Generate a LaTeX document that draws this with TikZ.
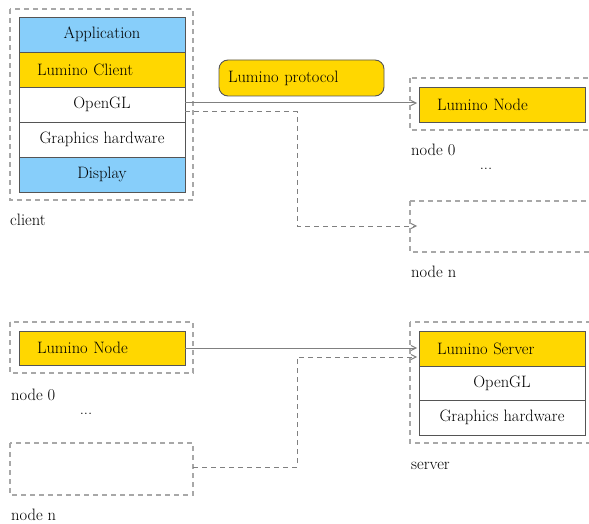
\documentclass[tikz,border=0pt]{standalone}
\usetikzlibrary{arrows.meta}
\definecolor{skyb}{HTML}{87CEFA}
\definecolor{goldy}{HTML}{FFD700}
\definecolor{edgeg}{HTML}{555555}
\definecolor{dashg}{HTML}{A8A8A8}
\definecolor{arrg}{HTML}{808080}
\tikzset{
  txt/.style={font=\fontsize{16.5}{19}\selectfont},
  dbox/.style={draw=dashg, line width=1.2pt, dash pattern=on 5pt off 4pt},
  layer/.style={draw=edgeg, line width=0.9pt, minimum width=166pt, inner sep=0pt, txt},
  golden/.style={layer, fill=goldy, align=left, text width=130pt},
  blue/.style={layer, fill=skyb},
  white/.style={layer, fill=white},
  lab/.style={anchor=base west, inner sep=0pt, txt},
  conn/.style={draw=arrg, line width=1pt, -{Straight Barb[length=5pt,width=5pt]}},
  dconn/.style={conn, dash pattern=on 5pt off 4pt},
}
\begin{document}
\begin{tikzpicture}[x=1pt,y=-1pt]
\useasboundingbox (0,0) rectangle (589,524);
\clip (0,0) rectangle (589,524);
% client
\draw[dbox] (10,9) rectangle (193,200);
\node[blue, minimum height=35pt] (app) at (102,34.5) {Application};
\node[golden, minimum height=35pt] (lclient) at (102,69.5) {Lumino Client};
\node[white, minimum height=35pt] (ogl) at (102,104.5) {OpenGL};
\node[white, minimum height=35pt] (ghw) at (102,139.5) {Graphics hardware};
\node[blue, minimum height=35pt] (disp) at (102,174.5) {Display};
\node[lab] (clientlab) at (10,225) {client};
% protocol
\node[draw=edgeg, fill=goldy, rounded corners=9pt, line width=0.9pt, minimum width=165pt, minimum height=36pt, align=left, text width=147pt, inner sep=0pt, txt] (proto) at (301.5,78) {Lumino protocol};
% top right node 0
\draw[dbox] (410,78) rectangle (600,130);
\node[golden, minimum height=35pt] (ln0) at (502,104.5) {Lumino Node};
\node[lab] (n0lab) at (411,156) {node 0};
\node[txt] (dots1) at (486,169) {...};
\draw[dbox] (410,201) rectangle (600,252);
\coordinate (nn) at (417,226);
\node[lab] (nnlab) at (411,277) {node n};
% connectors top
\coordinate (oglout) at (185,103);
\coordinate (ogldash) at (185,112);
\coordinate (ln0in) at (417,103);
\draw[conn] (oglout) -- (ln0in);
\draw[dconn] (ogldash) -| (297,226) -- (nn);
% bottom left
\draw[dbox] (10,322) rectangle (193,373);
\node[golden, minimum height=34pt] (bn0) at (102,348) {Lumino Node};
\node[lab] (bn0lab) at (11,400) {node 0};
\node[txt] (dots2) at (86,414) {...};
\draw[dbox] (10,443) rectangle (193,495);
\coordinate (bnn) at (193,467);
\node[lab] (bnnlab) at (11,520) {node n};
% server
\draw[dbox] (410,322) rectangle (600,443);
\node[golden, minimum height=35pt] (lserver) at (502,348.5) {Lumino Server};
\node[white, minimum height=34pt] (sogl) at (502,383) {OpenGL};
\node[white, minimum height=35pt] (sghw) at (502,417.5) {Graphics hardware};
\node[lab] (servlab) at (411,469) {server};
% connectors bottom
\coordinate (srvin1) at (417,348);
\coordinate (srvin2) at (417,357);
\draw[conn] (bn0.east) -- (srvin1);
\draw[dconn] (bnn) -| (297,357) -- (srvin2);
\end{tikzpicture}
\end{document}
